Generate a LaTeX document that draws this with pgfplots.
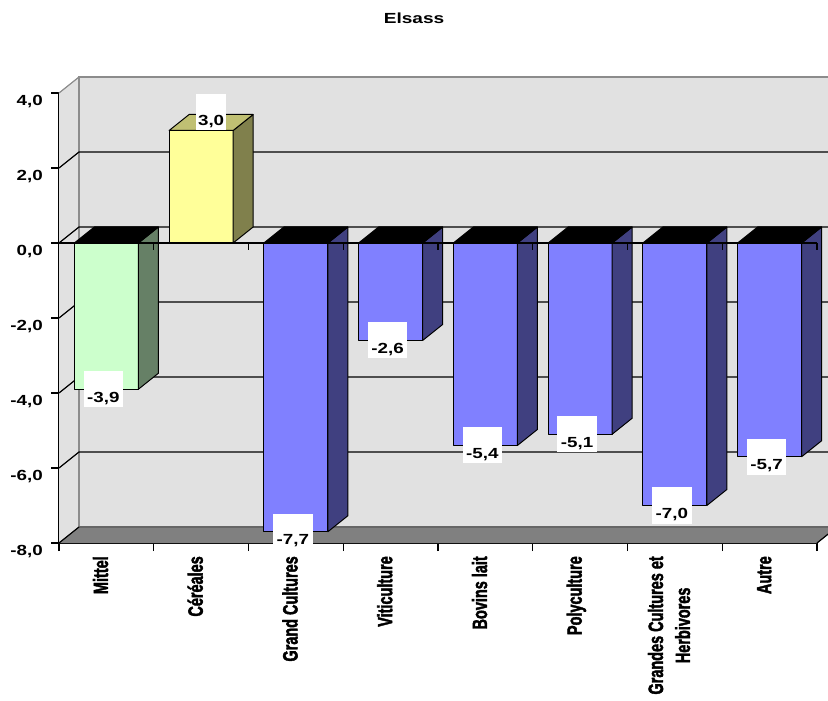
\documentclass[border=0pt]{standalone}
\usepackage{pgfplots}
\pgfplotsset{compat=1.18}
\usepackage{pgfplotstable}
\usepackage{graphicx}
\usepackage{fontspec}
\setmainfont{Liberation Sans}
\newfontfamily\catfont{Liberation Sans}[BoldFeatures={FakeBold=2.5}]

\definecolor{wallgray}{HTML}{E1E1E1}
\definecolor{floorgray}{HTML}{808080}
\definecolor{edgegray}{HTML}{8C8C8C}
\definecolor{blueF}{HTML}{8080FF}
\definecolor{blueS}{HTML}{404080}
\definecolor{greenF}{HTML}{CCFFCC}
\definecolor{greenS}{HTML}{668066}
\definecolor{yellowF}{HTML}{FFFF99}
\definecolor{yellowS}{HTML}{80804C}
\definecolor{yellowT}{HTML}{C0C073}

% farm types and their change
\pgfplotstableread{
pos  val   front   side    top
0.5  -3.9  greenF  greenS  black
1.5   3.0  yellowF yellowS yellowT
2.5  -7.7  blueF   blueS   black
3.5  -2.6  blueF   blueS   black
4.5  -5.4  blueF   blueS   black
5.5  -5.1  blueF   blueS   black
6.5  -7.0  blueF   blueS   black
7.5  -5.7  blueF   blueS   black
}\datatable

% depth of the pseudo-3D box, in axis units
\def\dx{0.2111}
\def\dy{0.4267}
% half gap and width of a column, in axis units
\def\gap{0.1623}
\def\bw{0.6755}

% one column: centre, value, front colour, side colour, top colour
\newcommand\barcube[5]{%
  \pgfmathsetmacro\xa{#1-0.5+\gap}%
  \pgfmathsetmacro\xb{\xa+\bw}%
  \pgfmathsetmacro\xc{\xa+\dx}%
  \pgfmathsetmacro\xd{\xb+\dx}%
  \pgfmathsetmacro\yb{#2+\dy}%
  \pgfmathsetmacro\yt{max(#2,0)}%
  \pgfmathsetmacro\ytb{\yt+\dy}%
  \addplot[fill=#3, draw=black, line width=0.75pt, line join=round]
    coordinates {(\xa,0) (\xb,0) (\xb,#2) (\xa,#2)} -- cycle;
  \addplot[fill=#4, draw=black, line width=0.75pt, line join=round]
    coordinates {(\xb,0) (\xd,\dy) (\xd,\yb) (\xb,#2)} -- cycle;
  \addplot[fill=#5, draw=black, line width=0.75pt, line join=round]
    coordinates {(\xa,\yt) (\xb,\yt) (\xd,\ytb) (\xc,\ytb)} -- cycle;
}

\newcommand\xl[1]{\scalebox{0.7}[1]{\begin{tabular}{@{}c@{}}#1\end{tabular}}}
\newcommand\numfont{\fontsize{11}{13}\selectfont\bfseries}

\begin{document}
\begin{tikzpicture}
\useasboundingbox (0,0) rectangle (621pt,525pt);
\clip (0,0) rectangle (621pt,525pt);
\node[font=\numfont] at (310.5pt,511pt) {\scalebox{1.3}[1]{Elsass}};
\begin{axis}[
  at={(44.25pt,117.75pt)}, anchor=south west,
  scale only axis, width=568.5pt, height=337.5pt,
  xmin=0, xmax=8, ymin=-8, ymax=4,
  clip=false,
  axis x line=bottom, axis y line=left,
  axis line style={-, line width=1.1pt, black},
  tick align=outside,
  major tick length=6pt, minor tick length=6pt,
  tick style={black, line width=0.9pt},
  ytick={-8,-6,-4,-2,0,2,4},
  xtick={0.46,1.46,2.46,3.46,4.46,5.46,6.46,7.46},
  minor xtick={0,1,2,3,4,5,6,7,8},
  major x tick style={draw=none},
  xticklabels={\xl{Mittel},\xl{Céréales},\xl{Grand Cultures},\xl{Viticulture},
    \xl{Bovins lait},\xl{Polyculture},\xl{Grandes Cultures et\\Herbivores},\xl{Autre}},
  xticklabel style={rotate=90, anchor=east, inner sep=0pt,
    font=\catfont\fontsize{15.5}{20.25}\selectfont\bfseries},
  xticklabel shift=3.75pt,
  yticklabel={\scalebox{1.28}[1]{\pgfmathprintnumber{\tick}}},
  yticklabel style={anchor=east, inner sep=0pt, font=\numfont, yshift=-6.75pt},
  yticklabel shift=6pt,
  /pgf/number format/.cd, fixed, fixed zerofill, precision=1, use comma,
    assume math mode=true,
]
% walls and floor
\addplot[fill=wallgray, draw=none]
  coordinates {(0.2111,-7.5733) (8.2111,-7.5733) (8.2111,4.4267) (0.2111,4.4267)} -- cycle;
\addplot[fill=wallgray, draw=none]
  coordinates {(0,-8) (0.2111,-7.5733) (0.2111,4.4267) (0,4)} -- cycle;
\addplot[fill=floorgray, draw=none]
  coordinates {(0,-8) (8,-8) (8.2111,-7.5733) (0.2111,-7.5733)} -- cycle;
% wall edges
\addplot[edgegray, line width=0.9pt]
  coordinates {(0.2111,-7.5733) (0.2111,4.4267) (8.2111,4.4267)};
\addplot[edgegray, line width=0.9pt] coordinates {(0,4) (0.2111,4.4267)};
\addplot[black!60, line width=0.9pt] coordinates {(0.2111,-7.5733) (8.2111,-7.5733)};
\addplot[black, line width=0.9pt] coordinates {(0,-8) (0.2111,-7.5733)};
\addplot[black, line width=0.9pt] coordinates {(8,-8) (8.2111,-7.5733)};
% gridlines on the side and back walls
\addplot[black, line width=0.9pt] coordinates {(0,-6) (0.2111,-5.5733) (8.2111,-5.5733)};
\addplot[black, line width=0.9pt] coordinates {(0,-4) (0.2111,-3.5733) (8.2111,-3.5733)};
\addplot[black, line width=0.9pt] coordinates {(0,-2) (0.2111,-1.5733) (8.2111,-1.5733)};
\addplot[black, line width=0.9pt] coordinates {(0,0) (0.2111,0.4267) (8.2111,0.4267)};
\addplot[black, line width=0.9pt] coordinates {(0,2) (0.2111,2.4267) (8.2111,2.4267)};
% columns
\pgfplotsforeachungrouped \r in {0,...,7}{%
  \pgfplotstablegetelem{\r}{pos}\of\datatable \let\cPos\pgfplotsretval
  \pgfplotstablegetelem{\r}{val}\of\datatable \let\cVal\pgfplotsretval
  \pgfplotstablegetelem{\r}{front}\of\datatable \let\cF\pgfplotsretval
  \pgfplotstablegetelem{\r}{side}\of\datatable \let\cS\pgfplotsretval
  \pgfplotstablegetelem{\r}{top}\of\datatable \let\cT\pgfplotsretval
  \edef\tmp{\noexpand\barcube{\cPos}{\cVal}{\cF}{\cS}{\cT}}\tmp
}
% zero line with its ticks
\addplot[black, line width=0.9pt] coordinates {(0,0) (8,0)};
\addplot[black, ycomb, line width=0.9pt]
  coordinates {(1,-0.187) (2,-0.187) (3,-0.187) (4,-0.187) (5,-0.187) (6,-0.187) (7,-0.187) (8,-0.187)};
% value labels
\addplot[draw=none, restrict y to domain=-20:0, point meta=y,
  nodes near coords={\scalebox{1.28}[1]{\pgfmathprintnumber{\pgfplotspointmeta}}},
  every node near coord/.style={fill=white, inner xsep=2.6pt, inner ysep=1.5pt,
    text height=21.75pt, text depth=2.25pt, anchor=center, xshift=-2.25pt,
    font=\numfont}]
  table[x=pos, y=val]{\datatable};
\addplot[draw=none, restrict y to domain=0:20, point meta=y,
  nodes near coords={\scalebox{1.28}[1]{\pgfmathprintnumber{\pgfplotspointmeta}}},
  every node near coord/.style={fill=white, inner xsep=1.5pt, inner ysep=1.5pt,
    text height=21.75pt, text depth=2.25pt, anchor=south, xshift=7.5pt,
    font=\numfont}]
  table[x=pos, y=val]{\datatable};
\end{axis}
\end{tikzpicture}
\end{document}
